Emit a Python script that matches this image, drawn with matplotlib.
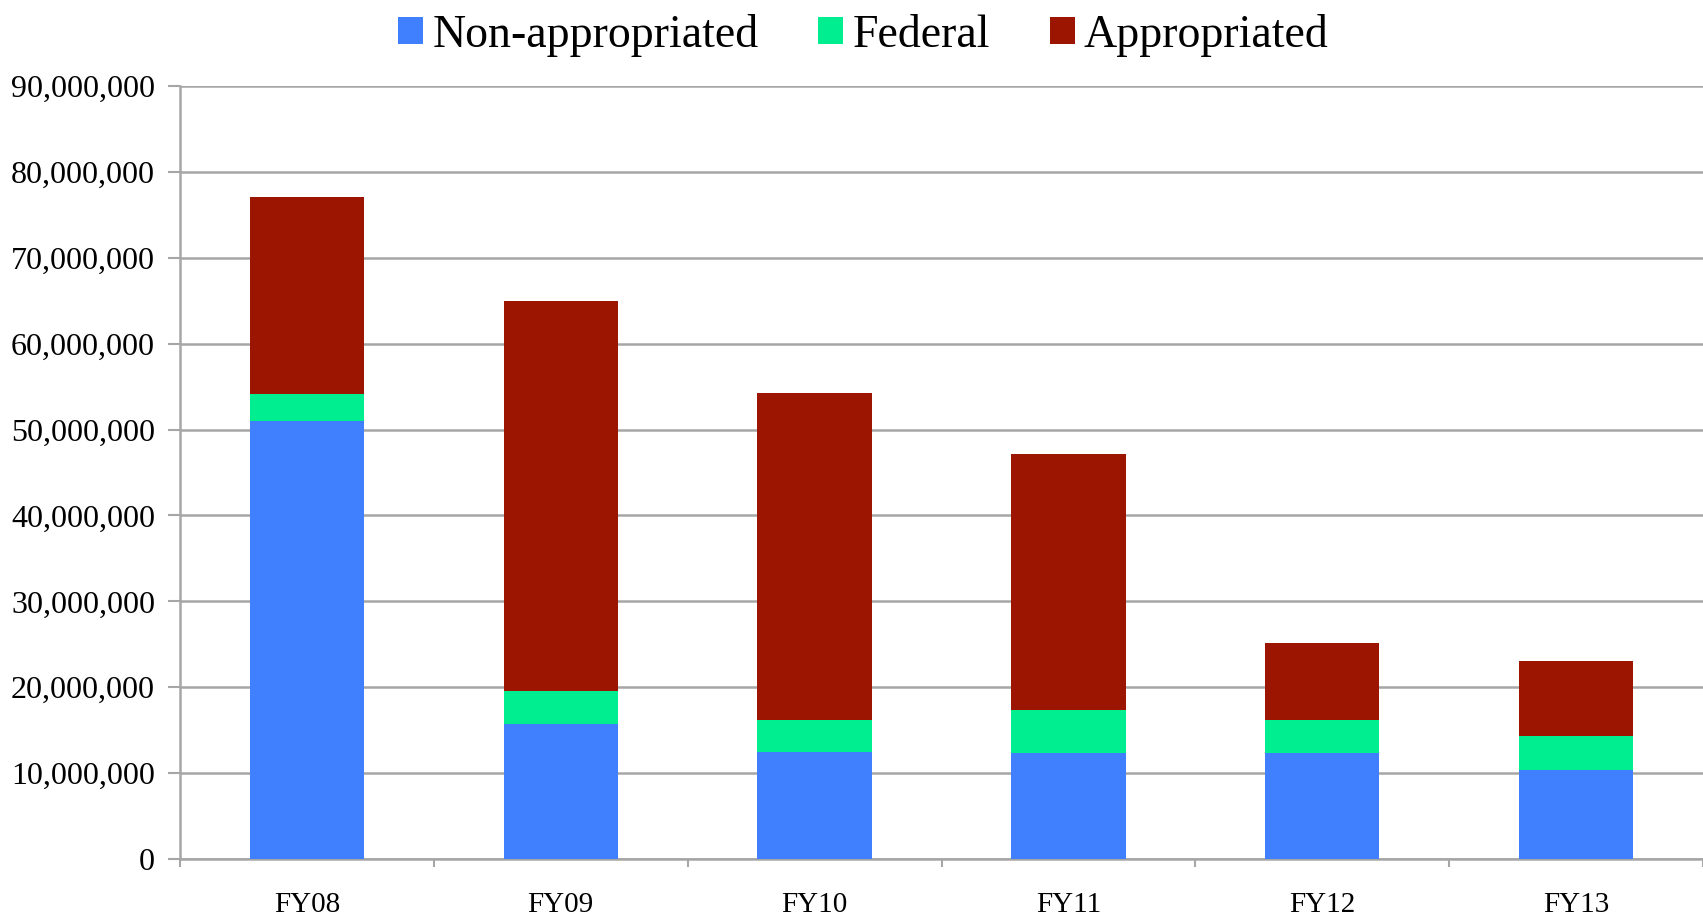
import numpy as np
import matplotlib
matplotlib.use('Agg')
from matplotlib import pyplot as plt
from matplotlib.ticker import FuncFormatter, FixedLocator

years = ['FY08', 'FY09', 'FY10', 'FY11', 'FY12', 'FY13']
non_appropriated = [51.0e6, 15.7e6, 12.5e6, 12.3e6, 12.3e6, 10.4e6]
federal = [3.1e6, 3.9e6, 3.7e6, 5.1e6, 3.9e6, 3.9e6]
appropriated = [23.0e6, 45.4e6, 38.0e6, 29.8e6, 9.0e6, 8.7e6]

plt.rcParams['font.family'] = ['Liberation Serif', 'DejaVu Serif']

fig = plt.figure(figsize=(17.03, 9.19), dpi=100)
ax = fig.add_axes([0.1057, 0.0653, 0.8943, 0.8411])

x = np.arange(len(years))
w = 0.45
grey = '#a6a6a6'
b1 = ax.bar(x, non_appropriated, w, color='#4080ff', label='Non-appropriated', zorder=3)
b2 = ax.bar(x, federal, w, bottom=non_appropriated, color='#00ee90', label='Federal', zorder=3)
bottom2 = np.array(non_appropriated) + np.array(federal)
b3 = ax.bar(x, appropriated, w, bottom=bottom2, color='#9c1500', label='Appropriated', zorder=3)

ax.set_xlim(-0.5, 5.5)
ax.set_ylim(0, 90e6)
ax.set_yticks(np.arange(0, 90e6 + 1, 10e6))
ax.yaxis.set_major_formatter(FuncFormatter(lambda v, p: '{:,.0f}'.format(v)))
ax.yaxis.grid(True, color=grey, linewidth=1.8, zorder=0)

ax.set_xticks(x)
ax.set_xticklabels(years)
ax.xaxis.set_minor_locator(FixedLocator(np.arange(-0.5, 5.6, 1.0)))
ax.tick_params(axis='x', which='major', length=0, pad=24, labelsize=21)
ax.tick_params(axis='x', which='minor', length=6, width=1.5, color=grey)
ax.tick_params(axis='y', length=9, width=1.5, color=grey, pad=9, labelsize=23)

for s in ['top', 'right']:
    ax.spines[s].set_visible(False)
for s in ['left', 'bottom']:
    ax.spines[s].set_color(grey)
    ax.spines[s].set_linewidth(1.8)

fig.legend(handles=[b1, b2, b3], loc='upper center', bbox_to_anchor=(0.507, 1.03),
           ncol=3, frameon=False, fontsize=33, handlelength=0.55, handleheight=0.55,
           handletextpad=0.2, columnspacing=1.3)

fig.savefig('out.png', dpi=100)
